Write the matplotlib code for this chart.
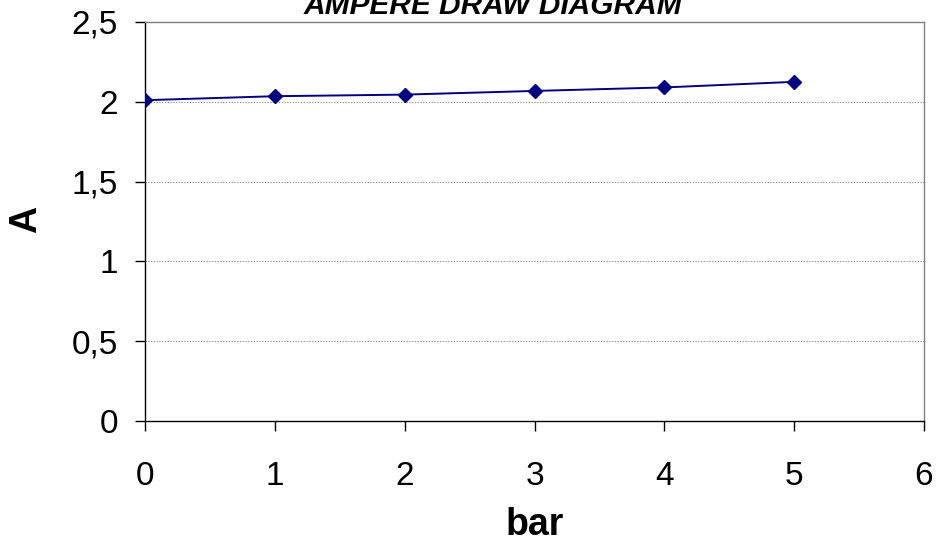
import numpy as np
import matplotlib.pyplot as plt

plt.rcParams['font.family'] = ['Liberation Sans', 'DejaVu Sans']

# data
bar = [0, 1, 2, 3, 4, 5]
amp = [2.01, 2.035, 2.045, 2.068, 2.09, 2.125]
x_ticks = [0, 1, 2, 3, 4, 5, 6]
y_ticks = [0, 0.5, 1, 1.5, 2, 2.5]
y_tick_labels = ['0', '0,5', '1', '1,5', '2', '2,5']

fig = plt.figure(figsize=(9.36, 5.43), dpi=100)
ax = fig.add_axes([0.1549, 0.2247, 0.8323, 0.7348])

ax.plot(bar, amp, color='#000080', lw=1.4, marker='D', markersize=7,
        markerfacecolor='#000080', markeredgecolor='#000080', zorder=3)

ax.set_xlim(0, 6)
ax.set_ylim(0, 2.5)
ax.set_xticks(x_ticks)
ax.set_yticks(y_ticks)
ax.set_yticklabels(y_tick_labels)

for y in y_ticks[1:-1]:
    ax.axhline(y, color='#808080', lw=0.8, ls=(0, (1, 1.5)), zorder=1)

ax.spines['top'].set_color('#808080')
ax.spines['right'].set_color('#808080')
ax.spines['left'].set_color('black')
ax.spines['bottom'].set_color('black')
for s in ax.spines.values():
    s.set_linewidth(1.0)

ax.tick_params(axis='both', direction='out', length=7.5, width=1.0,
               labelsize=24, colors='black')
ax.tick_params(axis='x', pad=21)
ax.tick_params(axis='y', pad=12)

ax.set_xlabel('bar', fontsize=27, fontweight='bold')
ax.set_ylabel('A', fontsize=27, fontweight='bold')
ax.xaxis.set_label_coords(0.5, -0.215)
ax.yaxis.set_label_coords(-0.13, 0.504)

fig.text(0.527, 0.974, 'AMPERE DRAW DIAGRAM', ha='center', va='baseline',
         fontsize=21.5, fontweight='bold', fontstyle='italic')

fig.savefig('out.png', dpi=100)
